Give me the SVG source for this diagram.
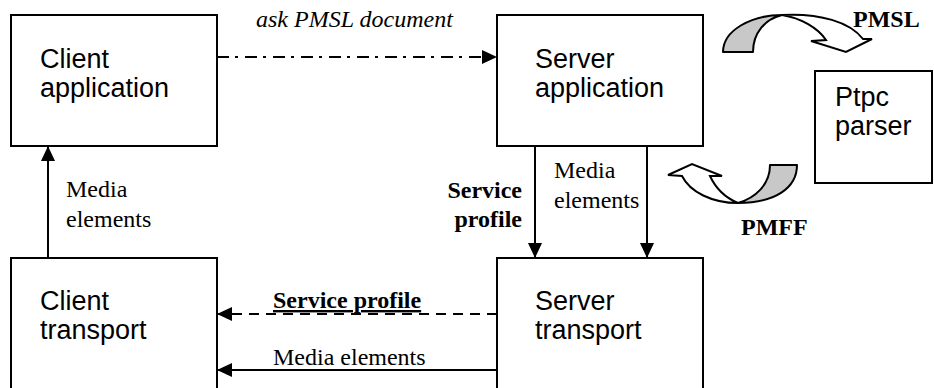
<svg xmlns="http://www.w3.org/2000/svg" width="934" height="388" viewBox="0 0 934 388">
  <style>
    .box { fill: #ffffff; stroke: #000000; stroke-width: 2; }
    .boxtext { font-family: "Liberation Sans", Arial, sans-serif; font-size: 27px; fill: #000000; }
    .lbl { font-family: "Liberation Serif", "Times New Roman", serif; font-size: 24px; fill: #000000; }
    .bold { font-weight: bold; }
    .ital { font-style: italic; }
    .conn { fill: none; stroke: #000000; stroke-width: 2; }
    .dashdot { stroke-dasharray: 12 6 3 7; }
    .dashed { stroke-dasharray: 10 7; }
    .shade { fill: #c8c8c8; stroke: #000000; stroke-width: 2; stroke-linejoin: round; }
    .white { fill: #ffffff; stroke: #000000; stroke-width: 2; stroke-linejoin: miter; }
  </style>
  <defs>
    <marker id="arrow" markerUnits="userSpaceOnUse" markerWidth="15" markerHeight="14" refX="15" refY="7" orient="auto">
      <path d="M0,0 L15,7 L0,14 Z" fill="#000000"/>
    </marker>
  </defs>
  <rect width="934" height="388" fill="#ffffff"/>

  <g id="client-application">
    <rect class="box" x="11" y="15" width="206" height="131"/>
    <text class="boxtext" x="40" y="68">Client</text>
    <text class="boxtext" x="40" y="97">application</text>
  </g>

  <g id="server-application">
    <rect class="box" x="497" y="15" width="206" height="131"/>
    <text class="boxtext" x="535" y="68">Server</text>
    <text class="boxtext" x="535" y="97">application</text>
  </g>

  <g id="ptpc-parser">
    <rect class="box" x="815" y="71" width="117" height="112"/>
    <text class="boxtext" x="835" y="106">Ptpc</text>
    <text class="boxtext" x="835" y="135">parser</text>
  </g>

  <g id="client-transport">
    <rect class="box" x="11" y="258" width="206" height="150"/>
    <text class="boxtext" x="40" y="310">Client</text>
    <text class="boxtext" x="40" y="339">transport</text>
  </g>

  <g id="server-transport">
    <rect class="box" x="497" y="258" width="206" height="150"/>
    <text class="boxtext" x="535" y="310">Server</text>
    <text class="boxtext" x="535" y="339">transport</text>
  </g>

  <g id="connectors">
    <!-- ask PMSL document -->
    <line class="conn dashdot" x1="217" y1="57" x2="497" y2="57" marker-end="url(#arrow)"/>
    <text class="lbl ital" x="256" y="27" font-size="23">ask PMSL document</text>

    <!-- Client transport -> Client application -->
    <line class="conn" x1="48" y1="258" x2="48" y2="146" marker-end="url(#arrow)"/>
    <text class="lbl" x="66" y="197">Media</text>
    <text class="lbl" x="66" y="227">elements</text>

    <!-- Server application -> Server transport (Service profile) -->
    <line class="conn" x1="535" y1="146" x2="535" y2="258" marker-end="url(#arrow)"/>
    <text class="lbl bold" x="522" y="198" text-anchor="end">Service</text>
    <text class="lbl bold" x="522" y="227" text-anchor="end">profile</text>

    <!-- Server application -> Server transport (Media elements) -->
    <line class="conn" x1="647" y1="146" x2="647" y2="258" marker-end="url(#arrow)"/>
    <text class="lbl" x="554" y="178">Media</text>
    <text class="lbl" x="554" y="208">elements</text>

    <!-- Server transport -> Client transport (Service profile, dashed) -->
    <line class="conn dashed" x1="497" y1="314" x2="217" y2="314" marker-end="url(#arrow)"/>
    <text class="lbl bold" x="273" y="308" text-decoration="underline">Service profile</text>

    <!-- Server transport -> Client transport (Media elements) -->
    <line class="conn" x1="497" y1="370" x2="217" y2="370" marker-end="url(#arrow)"/>
    <text class="lbl" x="273" y="365">Media elements</text>

    <!-- PMSL curved arrow (server application -> ptpc parser) -->
    <g id="pmsl-arrow">
      <path class="shade" d="M723,52 C723,30 752,15 782,15 C765,19 753,33 753,52 Z"/>
      <path class="white" d="M782,15 C820,13 850,22 863,39 L872,39 L846,52 L811,41 L826,40 C818,28 801,18 782,15 Z"/>
      <text class="lbl bold" x="853" y="27" font-size="22">PMSL</text>
    </g>

    <!-- PMFF curved arrow (ptpc parser -> server application) -->
    <g id="pmff-arrow">
      <path class="shade" d="M797,165 C797,188 775,203 738,203 C755,198 770,185 770,165 Z"/>
      <path class="white" d="M738,203 C712,203 690,192 682,176 L668,175 L692,164 L722,176 L710,176 C716,189 726,198 738,203 Z"/>
      <text class="lbl bold" x="741" y="235" font-size="22">PMFF</text>
    </g>
  </g>
</svg>
